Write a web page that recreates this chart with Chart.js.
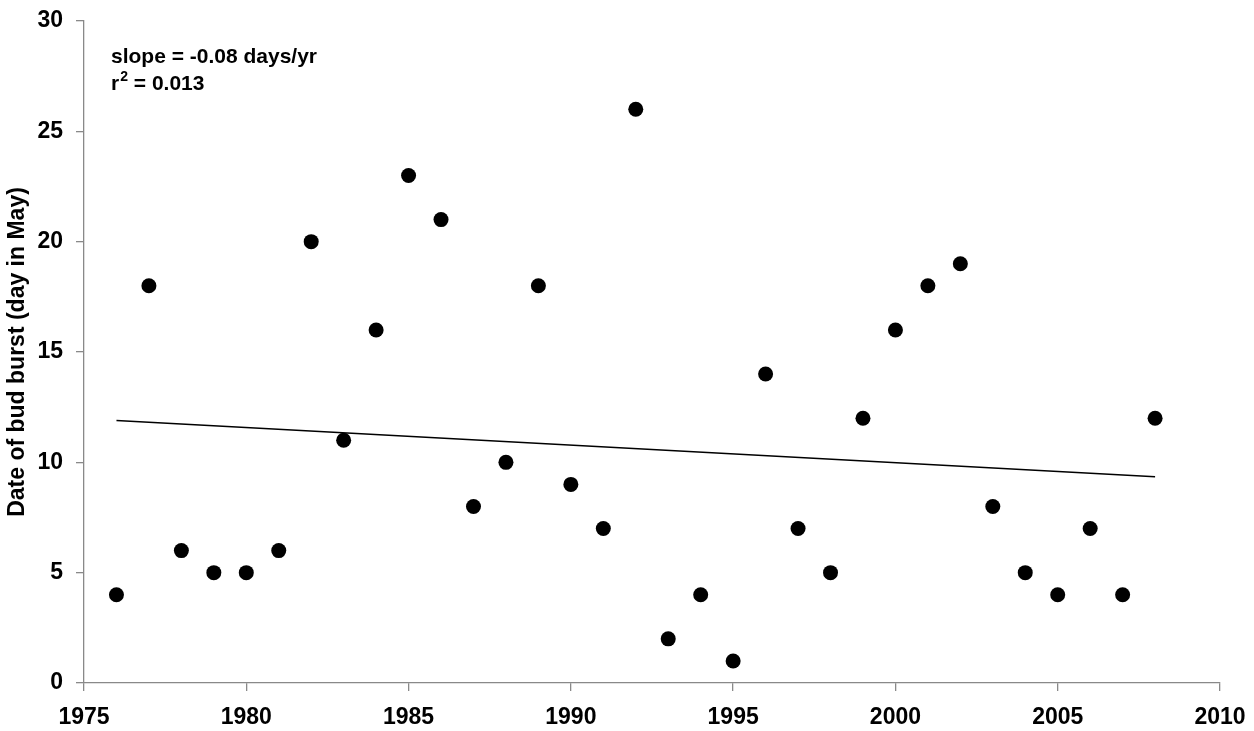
<!DOCTYPE html>
<html>
<head>
<meta charset="utf-8">
<script src="https://cdn.jsdelivr.net/npm/chart.js@4"></script>
<style>
html,body{margin:0;padding:0;background:#fff;}
#wrap{width:1254px;height:731px;position:relative;}
</style>
</head>
<body>
<div id="wrap"><canvas id="c" width="1254" height="731"></canvas></div>
<script>
const years = [1976,1977,1978,1979,1980,1981,1982,1983,1984,1985,1986,1987,1988,1989,1990,1991,1992,1993,1994,1995,1996,1997,1998,1999,2000,2001,2002,2003,2004,2005,2006,2007,2008];
const budBurstDay = [4,18,6,5,5,6,20,11,16,23,21,8,10,18,9,7,26,2,4,1,14,7,5,12,16,18,19,8,5,4,7,4,12];
const trendYears = [1976, 2008];
const trendValues = [11.9, 9.35];
const xTicks = [1975,1980,1985,1990,1995,2000,2005,2010];
const yTicks = [0,5,10,15,20,25,30];
const annotationLines = ["slope = -0.08 days/yr", "r", "2", " = 0.013"];
const yTitle = "Date of bud burst (day in May)";

const FONT = "'Liberation Sans', Arial, sans-serif";
const AXIS = "#898989";

function zeroPad(s) { s.paddingLeft = 0; s.paddingRight = 0; s.paddingTop = 0; s.paddingBottom = 0; }

const annot = {
  id: 'annot',
  afterDraw(chart) {
    const ctx = chart.ctx;
    ctx.save();
    ctx.fillStyle = '#000';
    ctx.textBaseline = 'alphabetic';
    ctx.textAlign = 'left';
    ctx.font = "bold 21px " + FONT;
    ctx.fillText(annotationLines[0], 111, 63);
    ctx.fillText(annotationLines[1], 111, 90);
    let w = ctx.measureText(annotationLines[1]).width;
    ctx.font = "bold 14px " + FONT;
    ctx.fillText(annotationLines[2], 111 + w + 1, 81);
    let w2 = ctx.measureText(annotationLines[2]).width;
    ctx.font = "bold 21px " + FONT;
    ctx.fillText(annotationLines[3], 111 + w + 1 + w2, 90);
    ctx.restore();
  }
};

new Chart(document.getElementById('c'), {
  type: 'scatter',
  data: {
    datasets: [
      {
        label: 'bud burst',
        data: years.map((y, i) => ({x: y, y: budBurstDay[i]})),
        backgroundColor: '#000',
        borderColor: '#000',
        pointRadius: 7.5,
        pointHoverRadius: 7.5,
        borderWidth: 0,
        showLine: false
      },
      {
        label: 'trend',
        data: trendYears.map((y, i) => ({x: y, y: trendValues[i]})),
        showLine: true,
        borderColor: '#000',
        borderWidth: 1.5,
        pointRadius: 0,
        fill: false
      }
    ]
  },
  options: {
    responsive: false,
    animation: false,
    layout: { padding: { left: 0, right: 34, top: 21, bottom: 0 } },
    plugins: { legend: { display: false }, tooltip: { enabled: false } },
    scales: {
      x: {
        type: 'linear',
        min: 1975, max: 2010,
        afterBuildTicks(s) { s.ticks = xTicks.map(v => ({value: v})); },
        afterFit(s) { s.height = 48; zeroPad(s); },
        grid: { display: true, drawOnChartArea: false, drawTicks: true, tickLength: 8, color: AXIS, lineWidth: 1.3 },
        border: { display: true, color: AXIS, width: 1.3 },
        ticks: { color: '#000', font: { family: FONT, size: 23, weight: 'bold' }, padding: 13, maxRotation: 0, autoSkip: false,
                 callback: v => String(v) }
      },
      y: {
        type: 'linear',
        min: 0, max: 30,
        afterBuildTicks(s) { s.ticks = yTicks.map(v => ({value: v})); },
        afterFit(s) { s.width = 84; zeroPad(s); },
        grid: { display: true, drawOnChartArea: false, drawTicks: true, tickLength: 8, color: AXIS, lineWidth: 1.3 },
        border: { display: true, color: AXIS, width: 1.3 },
        title: { display: true, text: yTitle, color: '#000', font: { family: FONT, size: 23, weight: 'bold' }, padding: { top: 4, bottom: 4 } },
        ticks: { color: '#000', font: { family: FONT, size: 23, weight: 'bold' }, padding: 13, autoSkip: false }
      }
    }
  },
  plugins: [annot]
});
</script>
</body>
</html>
